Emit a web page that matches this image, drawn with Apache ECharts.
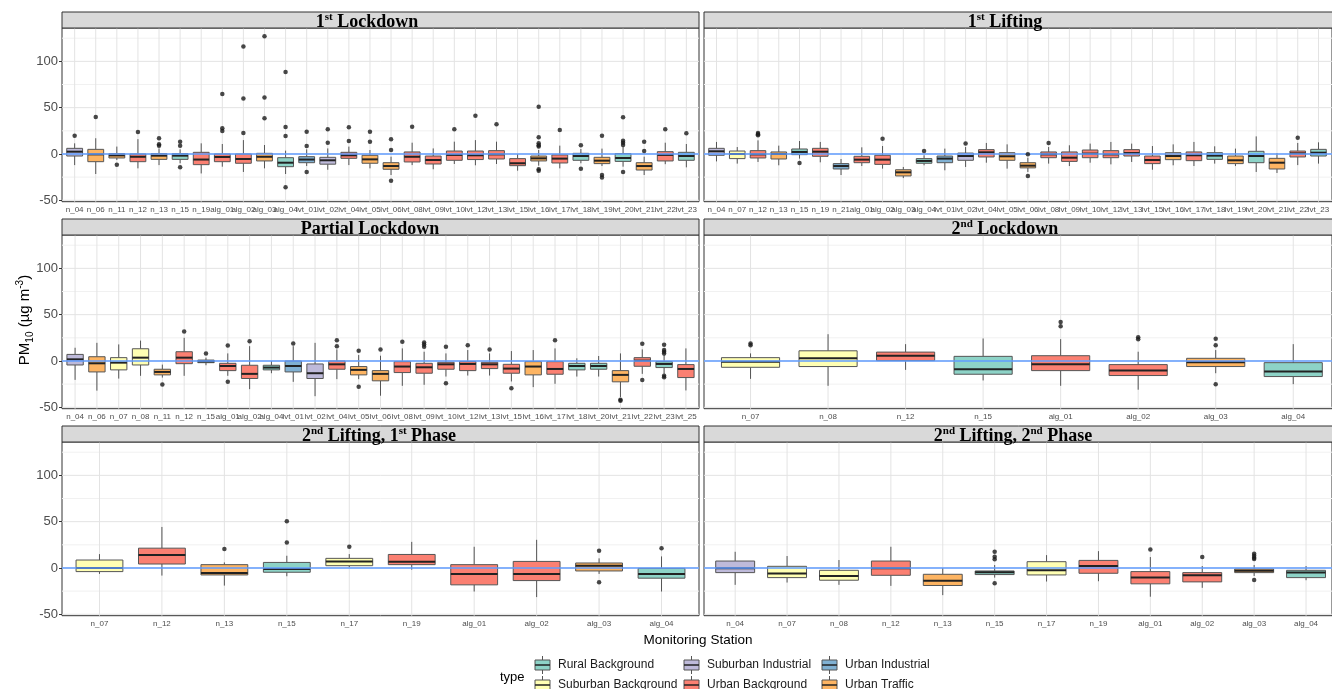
<!DOCTYPE html>
<html>
<head>
<meta charset="utf-8">
<script src="https://cdn.jsdelivr.net/npm/echarts@6/dist/echarts.min.js"></script>
<style>
	html, body { margin: 0; padding: 0; background: #fff; }
	#chart { width: 1332px; height: 689px; }
</style>
</head>
<body>
<div id="chart"></div>
<script>
// station types
var typeNames = ["Rural Background", "Suburban Background", "Suburban Industrial", "Urban Background", "Urban Industrial", "Urban Traffic"];
var typeColors = ["#8DD3C7", "#FFFFB3", "#BEBADA", "#FB8072", "#80B1D3", "#FDB462"];
var stationType = {
	n_15: 0, alg_04: 0, lvt_18: 0, lvt_20: 0, lvt_23: 0,
	n_07: 1, n_08: 1, n_17: 1,
	n_04: 2, lvt_02: 2,
	n_12: 3, n_19: 3, alg_01: 3, alg_02: 3, lvt_04: 3, lvt_08: 3, lvt_09: 3, lvt_10: 3, lvt_12: 3,
	lvt_13: 3, lvt_15: 3, lvt_17: 3, lvt_22: 3, lvt_25: 3,
	n_21: 4, lvt_01: 4,
	n_06: 5, n_11: 5, n_13: 5, alg_03: 5, lvt_05: 5, lvt_06: 5, lvt_16: 5, lvt_19: 5, lvt_21: 5
};

var majorBreaks = [-50, 0, 50, 100];
var minorBreaks = [-25, 25, 75, 125];

// boxes: [lower whisker, Q1, median, Q3, upper whisker]
var lock1Stations = ["n_04","n_06","n_11","n_12","n_13","n_15","n_19","alg_01","alg_02","alg_03","alg_04","lvt_01","lvt_02","lvt_04","lvt_05","lvt_06","lvt_08","lvt_09","lvt_10","lvt_12","lvt_13","lvt_15","lvt_16","lvt_17","lvt_18","lvt_19","lvt_20","lvt_21","lvt_22","lvt_23"];
var lock1Boxes = [
	[-12,-2.2,2.5,6.1,11.5], [-21.6,-8.3,-0.4,5,17], [-6.5,-4.3,-1.5,0.4,8], [-15.5,-8.3,-3,0,16],
	[-12,-5.8,-1.8,0.4,6], [-10,-5.8,-1.8,0.4,5], [-21,-11.5,-6,1.8,11.5], [-13.7,-8.3,-3.2,0,10.8],
	[-19.4,-10,-5.4,0,15], [-15.5,-7.5,-3,0.7,9.7], [-21.6,-13.7,-9.4,-4,3.6], [-13,-9.4,-6,-2.9,5],
	[-17,-11,-6.8,-3.6,6], [-12,-4.7,-1.4,1.8,8], [-15.5,-10,-5.8,-1.4,4.3], [-22.7,-16.5,-13,-9.4,-2.9],
	[-12,-8.6,-3,2.2,12.2], [-16.5,-10.8,-6.5,-2.2,6], [-10.8,-6.8,-1,3.2,13.3], [-12.2,-6,-1.4,3.2,15],
	[-10.8,-5.4,-0.4,3.6,13.3], [-18,-12.6,-10,-5,0], [-12.6,-7.5,-4.7,-2.2,4.3], [-15.5,-9.7,-5,-1,9],
	[-10,-6.8,-2.2,0.7,5.4], [-13,-10.4,-7.2,-3.6,5.8], [-13.7,-8,-4.3,0.4,8], [-22.7,-17.3,-13,-9.4,-2.9],
	[-11,-7.5,-1,2.5,12.2], [-14.4,-6.8,-2.2,1.8,10.8]
];
var lock1Outliers = [
	["n_04",19.8],["n_06",40],["n_11",-11.5],["n_12",23.7],["n_13",17],["n_13",10.4],["n_13",9],
	["n_15",13.3],["n_15",9],["n_15",-14.4],["alg_01",64.7],["alg_01",27.7],["alg_01",24.8],
	["alg_02",116],["alg_02",60],["alg_02",22.7],["alg_03",127],["alg_03",61],["alg_03",38.5],
	["alg_04",88.5],["alg_04",29],["alg_04",19.4],["alg_04",-36],["lvt_01",24],["lvt_01",8.6],["lvt_01",-19.4],
	["lvt_02",26.6],["lvt_02",12.2],["lvt_04",28.8],["lvt_04",14],["lvt_05",24],["lvt_05",13.3],
	["lvt_06",16],["lvt_06",4.3],["lvt_06",-29],["lvt_08",29.5],["lvt_10",26.6],["lvt_12",41.4],["lvt_13",32],
	["lvt_16",51],["lvt_16",18],["lvt_16",11.5],["lvt_16",9.4],["lvt_16",8],["lvt_16",-16.5],["lvt_16",-18],
	["lvt_17",26],["lvt_18",9.4],["lvt_18",-15.8],["lvt_19",19.8],["lvt_19",-22.7],["lvt_19",-25.5],
	["lvt_20",39.6],["lvt_20",14.4],["lvt_20",12.2],["lvt_20",9.7],["lvt_20",-19.4],["lvt_21",13.3],["lvt_21",3.2],
	["lvt_22",26.6],["lvt_23",22.3]
];

var lift1Stations = ["n_04","n_07","n_12","n_13","n_15","n_19","n_21","alg_01","alg_02","alg_03","alg_04","lvt_01","lvt_02","lvt_04","lvt_05","lvt_06","lvt_08","lvt_09","lvt_10","lvt_12","lvt_13","lvt_15","lvt_16","lvt_17","lvt_18","lvt_19","lvt_20","lvt_21","lvt_22","lvt_23"];
var lift1Boxes = [
	[-8,-1.4,2.9,6.1,13], [-10.4,-5,0,3.2,7.5], [-8.6,-4.3,-0.4,3.6,14.7], [-12.2,-5.4,0,2.2,9],
	[-5,-0.7,2.2,5.4,14], [-9,-2.5,2.5,6.1,13], [-22.7,-16.2,-13,-10.4,-5.4], [-13,-9.4,-6.1,-2.5,7.2],
	[-15.8,-11.2,-6.1,-1.4,8.6], [-26,-23.7,-19.8,-17,-14], [-12.2,-10,-7.5,-5,-1.4], [-17.6,-9.4,-5,-2.2,5.8],
	[-14,-6.8,-2.2,1,7.5], [-9.4,-3.2,1.8,4.7,11.9], [-15.8,-6.8,-2.5,1.4,10.4], [-19.4,-15,-12.6,-9.4,-4],
	[-10.4,-4,-0.4,2.2,7.5], [-13,-8,-4,2.2,9.4], [-9.4,-4,0.4,4.3,11.2], [-11.2,-4,-0.4,3.6,13],
	[-8.6,-2.2,1,4.7,11.2], [-17,-10.4,-6.5,-2.2,8.6], [-12.2,-6.1,-2.2,1.4,10.4], [-13,-7.2,-1.4,2.2,13],
	[-10.4,-5.8,-1.8,1.4,8.3], [-13,-10.4,-6.8,-2.2,5.8], [-19.4,-9.4,-2.2,2.9,19], [-20.5,-16.2,-9.4,-4.7,1],
	[-12,-3.2,0.7,3.2,11.9], [-10.4,-2.2,1.4,5,12.6]
];
var lift1Outliers = [
	["n_12",22.7],["n_12",21.2],["n_12",20.1],["n_15",-9.7],["alg_02",16.5],["alg_04",3.2],["lvt_02",11.2],
	["lvt_06",-0.4],["lvt_06",-23.7],["lvt_08",11.9],["lvt_22",17.6]
];

var partStations = ["n_04","n_06","n_07","n_08","n_11","n_12","n_15","alg_01","alg_02","alg_04","lvt_01","lvt_02","lvt_04","lvt_05","lvt_06","lvt_08","lvt_09","lvt_10","lvt_12","lvt_13","lvt_15","lvt_16","lvt_17","lvt_18","lvt_20","lvt_21","lvt_22","lvt_23","lvt_25"];
var partBoxes = [
	[-20.4,-4.3,1.8,7.1,14.3], [-32,-11.8,-2.5,4.6,19.6], [-19,-9.6,-1.8,3.6,17.9], [-16,-4.3,3.6,13.2,22],
	[-17.9,-15,-11.8,-8.9,-3.9], [-16,-2.9,3.6,10,25], [-4.6,-1.8,-0.4,1,3.6], [-16,-10.4,-5.4,-2.5,8.2],
	[-30.4,-18.9,-13.9,-4.6,16], [-13.2,-9.6,-7.1,-4.6,0], [-22.5,-11.8,-5.4,0,16], [-38,-18.9,-13.2,-3.2,19.6],
	[-19.6,-8.9,-3.6,0,12.5], [-19.6,-15,-9.6,-6,6.4], [-37.5,-21.4,-13.9,-10.4,5.7], [-26.8,-12.5,-6,-0.7,13.6],
	[-25.7,-13.2,-6.8,-2.5,10], [-16.8,-8.9,-3.6,-1.4,8.2], [-15.7,-10.4,-3.2,-0.7,11.8], [-15.7,-8.2,-3.6,-1.4,8.2],
	[-22.1,-13.2,-8.2,-3.6,10.7], [-28.2,-15,-6,-0.7,11.8], [-24.6,-14.3,-8.6,-0.7,13.6], [-16.8,-9.6,-5.4,-2.5,2.9],
	[-16.8,-8.9,-5.4,-2.5,5.4], [-38.9,-22.5,-15,-10.4,8.2], [-13.9,-5.7,0.4,3.6,12.5], [-13.9,-7.1,-3.2,-0.7,6.4],
	[-31.8,-17.9,-8.6,-3.9,13.6]
];
var partOutliers = [
	["n_11",-25.4],["n_12",31.8],["n_15",8.2],["alg_01",16.8],["alg_01",-22.5],["alg_02",21.4],["lvt_01",18.9],
	["lvt_04",22.5],["lvt_04",16],["lvt_05",11],["lvt_05",-27.9],["lvt_06",12.5],["lvt_08",20.7],
	["lvt_09",20],["lvt_09",17.9],["lvt_09",15.4],["lvt_10",15.4],["lvt_10",-23.9],["lvt_12",17.1],["lvt_13",12.5],
	["lvt_15",-29.3],["lvt_17",22.5],["lvt_21",-41.8],["lvt_21",-42.9],["lvt_22",18.6],["lvt_22",-20.4],
	["lvt_23",17.5],["lvt_23",11.8],["lvt_23",10],["lvt_23",8.2],["lvt_23",-16],["lvt_23",-17.5]
];

var lock2Stations = ["n_07","n_08","n_12","n_15","alg_01","alg_02","alg_03","alg_04"];
var lock2Boxes = [
	[-19.3,-6.8,-0.7,3.6,8.2], [-26.8,-6,2.9,11,28.9], [-9.6,0.4,5.7,9.6,18.2], [-21,-14.3,-8.9,5,24.3],
	[-26.8,-10.4,-3.6,5.7,23.6], [-31,-15.7,-10.4,-3.9,10], [-13.2,-6,-1.4,2.9,11.8], [-25,-16.8,-11.4,-1.8,18.2]
];
var lock2Outliers = [
	["n_07",19],["n_07",17],["alg_01",42],["alg_01",37.5],["alg_02",25.5],["alg_02",23.5],
	["alg_03",24],["alg_03",17],["alg_03",-25]
];

var lift2aStations = ["n_07","n_12","n_13","n_15","n_17","n_19","alg_01","alg_02","alg_03","alg_04"];
var lift2aBoxes = [
	[-6.4,-3.9,0,8.6,15], [-8.2,4.3,13.9,21.4,44.3], [-19,-7.5,-5.4,3.6,6], [-8.9,-4.6,-1.1,6,13.2],
	[0.7,2.5,7.1,10.4,15], [-1.8,3.6,6.8,14.6,28.2], [-25.4,-18.2,-6.4,3.6,22.9], [-31.4,-13.6,-6.4,7.1,30.4],
	[-6.4,-3.2,2.5,5.4,10.4], [-25.4,-11,-6.4,-0.4,12.5]
];
var lift2aOutliers = [
	["n_13",20.4],["n_15",50.4],["n_15",27.5],["n_17",22.9],["alg_03",18.6],["alg_03",-15.4],["alg_04",21.4]
];

var lift2bStations = ["n_04","n_07","n_08","n_12","n_13","n_15","n_17","n_19","alg_01","alg_02","alg_03","alg_04"];
var lift2bBoxes = [
	[-18.2,-5,-0.4,7.5,17.5], [-15.7,-10.4,-6,1.8,12.9], [-18.2,-13.2,-8.6,-2.5,8.6], [-19.3,-7.9,-0.4,7.5,22.9],
	[-29.3,-18.9,-13.9,-6.8,0], [-10.4,-7.1,-4.6,-3.2,3.2], [-14.6,-7.5,-2.5,6.8,13.9], [-14.3,-5.7,2.1,8.2,18.2],
	[-31,-17.1,-10.4,-3.9,11.8], [-21.4,-15,-7.9,-5,2.1], [-8.6,-5,-2.9,-1.1,3.2], [-13.2,-10.4,-5,-2.5,2.1]
];
var lift2bOutliers = [
	["n_15",17.5],["n_15",12.1],["n_15",9.3],["n_15",-16.4],["alg_01",20],["alg_02",11.8],
	["alg_03",15.4],["alg_03",13.2],["alg_03",11],["alg_03",9.6],["alg_03",-12.9]
];

var Y_MIN = -51.5, Y_MAX = 136;

var panels = [
	{ title: "{b|1}{s|st}{b| Lockdown}", titleX: 367, col: 0, row: 0, stations: lock1Stations, boxes: lock1Boxes, outliers: lock1Outliers },
	{ title: "{b|1}{s|st}{b| Lifting}", titleX: 1005, col: 1, row: 0, stations: lift1Stations, boxes: lift1Boxes, outliers: lift1Outliers },
	{ title: "{b|Partial Lockdown}", titleX: 370, col: 0, row: 1, stations: partStations, boxes: partBoxes, outliers: partOutliers },
	{ title: "{b|2}{s|nd}{b| Lockdown}", titleX: 1005, col: 1, row: 1, stations: lock2Stations, boxes: lock2Boxes, outliers: lock2Outliers },
	{ title: "{b|2}{s|nd}{b| Lifting, 1}{s|st}{b| Phase}", titleX: 379, col: 0, row: 2, stations: lift2aStations, boxes: lift2aBoxes, outliers: lift2aOutliers },
	{ title: "{b|2}{s|nd}{b| Lifting, 2}{s|nd}{b| Phase}", titleX: 1013, col: 1, row: 2, stations: lift2bStations, boxes: lift2bBoxes, outliers: lift2bOutliers }
];

var colX = [62, 704];
var rowY = [28, 235, 442];
var panelW = 637, panelH = 173.7, stripH = 16;
var SANS = "Liberation Sans", SERIF = "Liberation Serif";

function renderGridLine(params, api)
{
	var v = api.value(1);
	var p1 = api.coord([0, v]);
	var p2 = api.coord([1, v]);
	var major = api.value(2) === 1;
	return {
		type: "line",
		shape: { x1: p1[0], y1: p1[1], x2: p2[0], y2: p2[1] },
		style: { stroke: major ? "#E3E3E3" : "#F1F1F1", lineWidth: 1 }
	};
}

function renderBox(params, api)
{
	var j = api.value(0);
	var bw = api.size([1, 0])[0] * 0.75;
	var lo = api.coord([j, api.value(1)]);
	var q1 = api.coord([j, api.value(2)]);
	var med = api.coord([j, api.value(3)]);
	var q3 = api.coord([j, api.value(4)]);
	var hi = api.coord([j, api.value(5)]);
	var top = api.coord([j, Y_MAX]);
	var bot = api.coord([j, Y_MIN]);
	var cx = med[0];
	var edge = "#555";
	return {
		type: "group",
		children: [
			{ type: "line", shape: { x1: cx, y1: top[1], x2: cx, y2: bot[1] }, style: { stroke: "#E3E3E3", lineWidth: 1 } },
			{ type: "line", shape: { x1: cx, y1: hi[1], x2: cx, y2: q3[1] }, style: { stroke: edge, lineWidth: 1 } },
			{ type: "line", shape: { x1: cx, y1: q1[1], x2: cx, y2: lo[1] }, style: { stroke: edge, lineWidth: 1 } },
			{ type: "rect", shape: { x: cx - bw / 2, y: q3[1], width: bw, height: q1[1] - q3[1] },
				style: { fill: api.visual("color"), stroke: edge, lineWidth: 1 } },
			{ type: "line", shape: { x1: cx - bw / 2, y1: med[1], x2: cx + bw / 2, y2: med[1] }, style: { stroke: "#222", lineWidth: 2 } }
		]
	};
}

var grids = [], xAxes = [], yAxes = [], series = [], graphics = [];
var lineData = [];
for (var m = 0; m < majorBreaks.length; m++) lineData.push([0, majorBreaks[m], 1]);
for (var m = 0; m < minorBreaks.length; m++) lineData.push([0, minorBreaks[m], 0]);

for (var i = 0; i < panels.length; i++)
{
	var p = panels[i];
	var x0 = colX[p.col], y0 = rowY[p.row];
	var n = p.stations.length;
	var band = panelW / (n + 0.2);
	var inset = band * 0.1;
	var bg = 2 * i, dg = 2 * i + 1;

	grids.push({ left: x0, top: y0, width: panelW, height: panelH, show: true, backgroundColor: "#fff", borderColor: "#333", borderWidth: 1 });
	grids.push({ left: x0 + inset, top: y0, width: panelW - 2 * inset, height: panelH });

	xAxes.push({ gridIndex: bg, type: "value", min: 0, max: 1, show: false });
	yAxes.push({
		gridIndex: bg, type: "value", min: Y_MIN, max: Y_MAX,
		axisLine: { show: false },
		splitLine: { show: false },
		axisTick: { show: p.col === 0, length: 3, customValues: majorBreaks, lineStyle: { color: "#333" } },
		axisLabel: { show: p.col === 0, customValues: majorBreaks, fontSize: 13, color: "#4D4D4D", fontFamily: SANS, margin: 4 }
	});
	xAxes.push({
		gridIndex: dg, type: "category", data: p.stations,
		axisLine: { show: false },
		axisTick: { alignWithLabel: true, length: 3, lineStyle: { color: "#333" } },
		axisLabel: { interval: 0, fontSize: 8, color: "#4D4D4D", fontFamily: SANS, margin: 4 },
		splitLine: { show: false }
	});
	yAxes.push({ gridIndex: dg, type: "value", min: Y_MIN, max: Y_MAX, show: false });

	series.push({
		type: "custom", xAxisIndex: bg, yAxisIndex: bg, z: 1, silent: true,
		renderItem: renderGridLine, data: lineData
	});

	var boxData = [];
	for (var j = 0; j < n; j++)
		boxData.push({ value: [j].concat(p.boxes[j]), itemStyle: { color: typeColors[stationType[p.stations[j]]] } });

	series.push({
		type: "custom", xAxisIndex: dg, yAxisIndex: dg, z: 2, silent: true,
		encode: { x: 0, y: [1, 2, 3, 4, 5] },
		renderItem: renderBox, data: boxData
	});
	series.push({
		type: "line", xAxisIndex: bg, yAxisIndex: bg, z: 3, silent: true,
		symbol: "none", lineStyle: { color: "#619CFF", width: 1.5 },
		data: [[0, 0], [1, 0]]
	});
	series.push({
		type: "scatter", xAxisIndex: dg, yAxisIndex: dg, z: 4, silent: true,
		symbolSize: 4.5, itemStyle: { color: "#1A1A1A" },
		data: p.outliers
	});

	// strip
	graphics.push({
		type: "rect", z: 10,
		shape: { x: x0, y: y0 - stripH, width: panelW, height: stripH },
		style: { fill: "#D9D9D9", stroke: "#333", lineWidth: 1 }
	});
	graphics.push({
		type: "text", z: 11, x: p.titleX, y: y0 - 6,
		style: {
			text: p.title, align: "center", verticalAlign: "middle",
			rich: {
				b: { fontFamily: SERIF, fontWeight: "bold", fontSize: 18, fill: "#000", lineHeight: 20 },
				s: { fontFamily: SERIF, fontWeight: "bold", fontSize: 11, fill: "#000", lineHeight: 14, verticalAlign: "top" }
			}
		}
	});
}

// axis titles
graphics.push({
	type: "text", x: 698, y: 640,
	style: { text: "Monitoring Station", fontFamily: SANS, fontSize: 13.5, fill: "#000", align: "center", verticalAlign: "middle" }
});
graphics.push({
	type: "text", x: 25, y: 320, rotation: Math.PI / 2,
	style: {
		text: "{n|PM}{d|10}{n| (µg m}{u|-3}{n|)}", align: "center", verticalAlign: "middle",
		rich: {
			n: { fontFamily: SANS, fontSize: 15, fill: "#000", lineHeight: 20 },
			d: { fontFamily: SANS, fontSize: 10, fill: "#000", lineHeight: 12, verticalAlign: "bottom" },
			u: { fontFamily: SANS, fontSize: 10, fill: "#000", lineHeight: 12, verticalAlign: "top" }
		}
	}
});

// legend
graphics.push({
	type: "text", x: 500, y: 677,
	style: { text: "type", fontFamily: SANS, fontSize: 13, fill: "#000", verticalAlign: "middle" }
});
var legendKeyX = [535, 684, 822];
var legendRowY = [665, 685];
for (var k = 0; k < typeNames.length; k++)
{
	var kx = legendKeyX[Math.floor(k / 2)], ky = legendRowY[k % 2];
	graphics.push({ type: "line", shape: { x1: kx + 7.5, y1: ky - 9, x2: kx + 7.5, y2: ky + 9 }, style: { stroke: "#555", lineWidth: 1 } });
	graphics.push({ type: "rect", shape: { x: kx, y: ky - 5, width: 15, height: 10 }, style: { fill: typeColors[k], stroke: "#555", lineWidth: 1 } });
	graphics.push({ type: "line", shape: { x1: kx, y1: ky, x2: kx + 15, y2: ky }, style: { stroke: "#222", lineWidth: 1.5 } });
	graphics.push({
		type: "text", x: kx + 23, y: ky,
		style: { text: typeNames[k], fontFamily: SANS, fontSize: 12, fill: "#1A1A1A", verticalAlign: "middle" }
	});
}

var chart = echarts.init(document.getElementById("chart"));
chart.setOption({
	animation: false,
	backgroundColor: "#fff",
	grid: grids,
	xAxis: xAxes,
	yAxis: yAxes,
	series: series,
	graphic: { elements: graphics }
});
</script>
</body>
</html>
